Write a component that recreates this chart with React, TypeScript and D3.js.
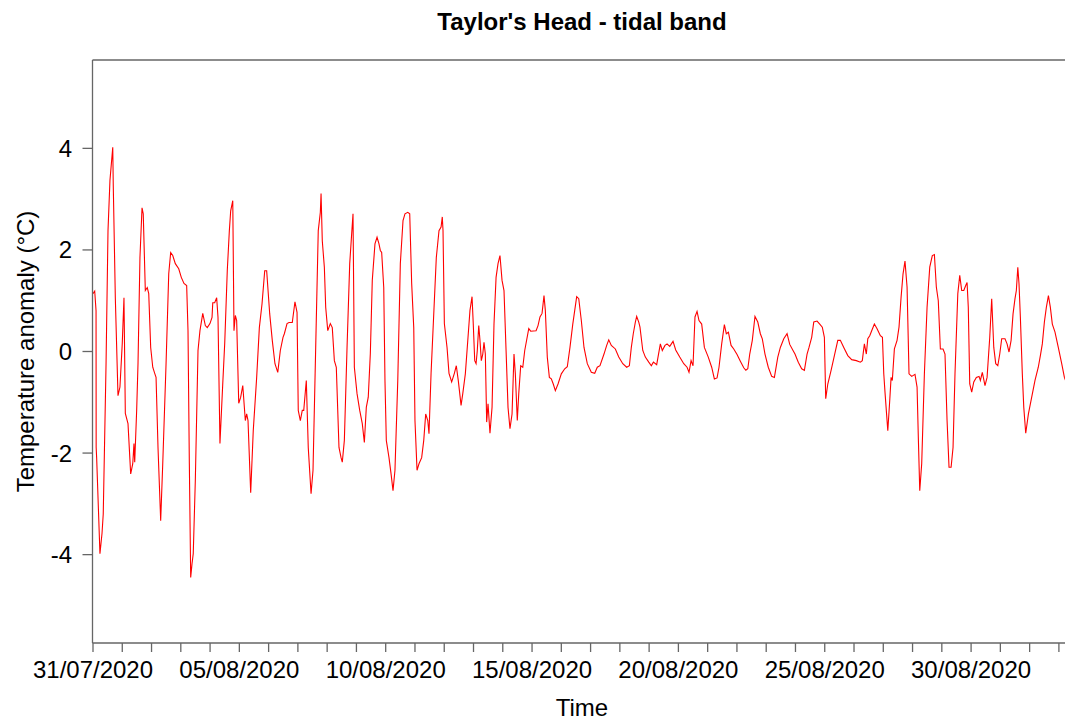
import React from "react";
import * as d3 from "d3";

// time in hours since 31/07/2020 00:00 (UTC)
const hours: number[] = [
  0, 1.4, 2.5, 2.6, 3.0, 5.7, 7.4, 8.4, 10.7, 12.3, 13.9, 16.2, 16.6, 18.3, 20.5, 22.1, 24.0, 25.4, 26.5, 28.7,
  30.9, 32.6, 33.6, 34.2, 35.8, 36.9, 38.5, 40.2, 41.2, 42.9, 44.5, 45.7, 47.3, 49.0, 50.6, 51.7, 53.3, 55.5, 57.2, 59.9,
  62.1, 63.7, 65.4, 67.5, 70.3, 72.4, 74.6, 76.8, 77.9, 79.0, 80.1, 81.2, 82.2, 83.9, 86.1, 87.7, 90.0, 92.1, 93.7, 95.9,
  97.6, 98.2, 99.8, 101.4, 102.5, 104.1, 106.4, 108.0, 110.1, 111.8, 112.9, 114.6, 115.6, 116.7, 117.8, 119.5, 121.1, 122.8, 124.9, 126.0,
  127.1, 129.3, 131.4, 134.2, 136.4, 138.6, 140.8, 142.4, 144.9, 147.0, 149.2, 151.5, 153.6, 155.8, 156.9, 159.1, 160.7, 163.4, 165.6, 167.3,
  168.3, 170.0, 171.6, 172.8, 174.9, 176.5, 178.8, 180.4, 182.6, 184.7, 186.4, 187.0, 188.0, 189.7, 190.8, 192.5, 194.6, 196.2, 197.9, 199.5,
  201.7, 203.4, 204.4, 206.1, 208.3, 210.5, 212.1, 213.2, 214.3, 216.5, 218.7, 220.8, 222.5, 224.1, 225.7, 227.4, 229.0, 231.2, 232.9, 234.5,
  235.6, 236.7, 238.4, 239.4, 240.5, 242.7, 244.4, 246.0, 247.6, 249.9, 252.0, 254.2, 255.8, 258.1, 259.7, 261.3, 263.0, 264.0, 265.7, 267.3,
  269.5, 271.2, 272.8, 274.5, 275.5, 277.2, 279.4, 281.5, 283.7, 285.4, 286.4, 287.0, 288.1, 290.3, 291.9, 294.1, 296.3, 297.9, 299.5, 301.8,
  303.2, 305.3, 307.5, 309.1, 310.8, 311.8, 313.0, 314.1, 315.1, 316.3, 317.3, 318.4, 319.6, 320.6, 321.7, 322.8, 323.9, 325.5, 327.2, 328.8,
  330.5, 332.1, 333.7, 335.4, 337.0, 338.7, 340.3, 341.9, 343.6, 345.2, 346.3, 347.9, 349.1, 350.7, 352.4, 354.0, 357.3, 358.9, 363.3, 364.9,
  366.5, 368.2, 369.8, 370.9, 372.5, 374.2, 375.8, 377.4, 379.1, 381.3, 384.0, 386.8, 388.9, 391.1, 393.4, 395.0, 396.6, 398.3, 400.4, 402.6,
  405.3, 408.6, 411.4, 413.5, 415.7, 419.0, 421.2, 422.9, 425.0, 428.3, 431.1, 434.4, 437.6, 439.8, 441.4, 443.0, 444.7, 445.8, 447.5, 448.5,
  450.8, 452.9, 455.7, 457.8, 459.5, 462.2, 465.2, 466.8, 469.0, 470.7, 472.9, 475.6, 477.8, 481.1, 484.4, 487.1, 488.7, 490.4, 492.0, 493.6,
  495.3, 496.9, 499.1, 501.3, 504.5, 507.3, 509.5, 511.7, 513.3, 515.5, 517.7, 519.3, 521.0, 523.2, 525.4, 528.1, 530.8, 533.6, 535.3, 536.9,
  538.5, 540.6, 542.8, 545.1, 547.2, 548.8, 551.0, 553.7, 556.5, 558.7, 561.5, 563.6, 566.4, 569.1, 571.3, 574.0, 575.6, 578.3, 581.1, 583.3,
  585.5, 587.1, 589.3, 591.0, 593.7, 595.9, 598.0, 599.7, 600.8, 602.5, 605.2, 607.9, 610.7, 612.8, 615.6, 618.9, 622.1, 625.9, 629.2, 630.8,
  632.5, 634.1, 635.3, 636.9, 638.5, 640.7, 642.9, 645.6, 647.3, 648.4, 649.4, 651.7, 653.3, 654.4, 655.4, 657.1, 659.3, 660.9, 662.6, 664.2,
  665.8, 667.5, 669.1, 671.3, 674.0, 675.7, 676.8, 677.9, 679.5, 681.7, 683.9, 686.1, 688.2, 689.9, 691.5, 693.1, 694.8, 697.0, 698.6, 700.3,
  701.9, 703.6, 705.2, 706.8, 709.1, 710.7, 712.3, 714.0, 715.6, 716.7, 717.7, 718.9, 720.5, 722.2, 724.3, 726.5, 727.6, 729.2, 731.4, 733.1,
  735.3, 736.9, 738.6, 740.2, 741.9, 743.5, 745.1, 747.8, 749.5, 751.1, 752.8, 754.4, 756.0, 757.1, 758.3, 759.3, 760.4, 762.0, 763.2, 764.8,
  767.0, 769.7, 772.4, 775.1, 776.8, 778.4, 780.1, 781.7, 783.4, 785.0, 786.6, 788.8, 791.5, 794.3, 796.5, 797.9,
];

// temperature anomaly (°C)
const anomaly: number[] = [
  1.14, 1.19, 0.8, -1.89, -2.1, -3.98, -3.58, -3.2, -0.24, 2.38, 3.37, 4.02, 3.3, 1.06, -0.87, -0.7, 0.16, 1.06, -1.22, -1.42,
  -2.41, -2.21, -1.81, -2.18, -1.16, -0.24, 1.85, 2.83, 2.71, 1.2, 1.26, 1.14, 0.08, -0.31, -0.43, -0.51, -1.89, -3.33, -2.2, -0.24,
  1.53, 1.95, 1.89, 1.73, 1.63, 1.46, 1.34, 1.3, 0.41, -2.21, -4.45, -4.18, -3.98, -2.54, 0.02, 0.41, 0.75, 0.51, 0.47, 0.55,
  0.67, 0.96, 0.96, 1.06, 0.67, -1.81, -0.63, 0.16, 1.59, 2.38, 2.77, 2.97, 0.41, 0.71, 0.61, -1.02, -0.9, -0.67, -1.36, -1.23,
  -1.36, -2.78, -1.56, -0.51, 0.47, 0.94, 1.59, 1.59, 0.74, 0.22, -0.24, -0.41, 0.02, 0.28, 0.35, 0.55, 0.57, 0.57, 0.98, 0.77,
  -1.16, -1.36, -1.16, -1.16, -0.57, -1.89, -2.8, -2.34, 0.08, 2.38, 2.74, 3.11, 2.18, 1.66, 0.87, 0.41, 0.55, 0.47, -0.18, -0.31,
  -1.89, -2.09, -2.18, -1.75, 0.08, 1.73, 2.32, 2.71, -0.31, -0.83, -1.16, -1.42, -1.79, -1.1, -0.9, -0.04, 1.4, 2.12, 2.25, 2.12,
  1.99, 1.95, 1.26, -0.57, -1.75, -2.09, -2.41, -2.74, -2.34, -0.57, 1.73, 2.58, 2.71, 2.74, 2.71, 1.34, 0.47, -1.36, -2.34, -2.21,
  -2.09, -1.75, -1.23, -1.36, -1.62, -0.43, 0.74, 1.85, 2.38, 2.45, 2.65, 2.38, 0.55, 0.08, -0.43, -0.6, -0.43, -0.28, -0.57, -1.06,
  -0.83, -0.44, 0.28, 0.81, 1.08, 0.54, -0.18, -0.24, 0.02, 0.51, 0.22, -0.18, -0.05, 0.18, -0.05, -1.39, -1.03, -1.61, -1.1, 0.54,
  1.46, 1.73, 1.89, 1.4, 1.2, 0.02, -1.1, -1.52, -1.23, -0.05, -0.44, -1.36, -0.83, -0.28, -0.31, 0.02, 0.45, 0.4, 0.41, 0.51,
  0.68, 0.75, 1.1, 0.81, -0.11, -0.51, -0.54, -0.64, -0.77, -0.64, -0.44, -0.34, -0.3, 0.08, 0.54, 0.81, 1.08, 1.04, 0.61, 0.08,
  -0.24, -0.41, -0.43, -0.31, -0.28, -0.05, 0.12, 0.23, 0.12, 0.05, -0.11, -0.24, -0.31, -0.28, 0.08, 0.35, 0.58, 0.69, 0.58, 0.48,
  0.02, -0.11, -0.21, -0.28, -0.21, -0.26, 0.15, 0.02, 0.12, 0.15, 0.1, 0.2, 0.03, -0.11, -0.24, -0.31, -0.41, -0.18, -0.28, 0.68,
  0.79, 0.61, 0.54, 0.08, -0.11, -0.31, -0.54, -0.52, -0.31, 0.15, 0.53, 0.35, 0.38, 0.12, 0.05, -0.06, -0.19, -0.32, -0.37, -0.34,
  -0.05, 0.22, 0.69, 0.58, 0.35, 0.25, -0.05, -0.31, -0.49, -0.51, -0.11, 0.08, 0.25, 0.35, 0.14, 0.02, -0.05, -0.21, -0.34, -0.37,
  -0.05, 0.08, 0.28, 0.58, 0.6, 0.54, 0.48, 0.28, -0.93, -0.64, -0.37, -0.08, 0.22, 0.22, 0.08, -0.08, -0.16, -0.18, -0.21, -0.18,
  0.15, -0.05, 0.25, 0.31, 0.41, 0.54, 0.45, 0.31, 0.28, -0.44, -0.8, -1.56, -0.96, -0.51, -0.57, 0.05, 0.22, 0.48, 1.07, 1.53,
  1.78, 1.27, -0.44, -0.49, -0.45, -0.7, -1.75, -2.74, -2.21, -0.44, 0.87, 1.66, 1.89, 1.91, 1.27, 1.0, 0.05, 0.05, -0.05, -1.36,
  -2.28, -2.28, -1.89, -0.44, 1.14, 1.5, 1.2, 1.2, 1.3, 1.36, 0.87, -0.64, -0.8, -0.6, -0.51, -0.49, -0.57, -0.41, -0.67, -0.51,
  0.28, 1.04, 0.08, -0.24, -0.28, -0.05, 0.25, 0.25, 0.15, -0.01, 0.22, 0.74, 1.04, 1.2, 1.66, 1.33, 0.68, -0.44, -1.1, -1.61,
  -1.23, -0.9, -0.57, -0.31, -0.08, 0.15, 0.58, 0.87, 1.1, 0.87, 0.54, 0.38, 0.08, -0.24, -0.51, -0.6,
];

const yTicks: number[] = [-4, -2, 0, 2, 4];
const labelDays: number[] = [0, 5, 10, 15, 20, 25, 30];
const totalDaysTicks = 33;

const title = "Taylor's Head - tidal band";
const xLabel = "Time";
const yLabel = "Temperature anomaly (°C)";

const W = 1065;
const H = 722;
const FONT = "'Liberation Sans', Arial, Helvetica, sans-serif";

export default function App() {
  const start = new Date(Date.UTC(2020, 6, 31));
  const hourMs = 3600 * 1000;
  const left = 92.5;
  const top = 60;
  const bottom = 643;
  const right = 1070;

  const x = d3
    .scaleTime()
    .domain([start, new Date(start.getTime() + 797 * hourMs)])
    .range([93, 1065]);
  const y = d3.scaleLinear().domain([-5.74, 5.74]).range([bottom, top]);

  const pts: [Date, number][] = hours.map((h, i) => [new Date(start.getTime() + h * hourMs), anomaly[i]]);
  const line = d3
    .line<[Date, number]>()
    .x((d) => x(d[0]))
    .y((d) => y(d[1]));

  const dayTicks = d3.range(0, totalDaysTicks + 1).map((d) => new Date(start.getTime() + d * 24 * hourMs));
  const fmt = d3.utcFormat("%d/%m/%Y");
  const axisColor = "#666";

  return (
    <svg
      width={W}
      height={H}
      viewBox={`0 0 ${W} ${H}`}
      style={{ position: "absolute", left: 0, top: 0, background: "#fff" }}
      fontFamily={FONT}
    >
      <rect x={0} y={0} width={W} height={H} fill="#fff" />
      <defs>
        <clipPath id="plotclip">
          <rect x={left} y={top} width={right - left} height={bottom - top} />
        </clipPath>
      </defs>
      <text x={582} y={30} textAnchor="middle" fontSize={24} fontWeight="bold" fill="#000">
        {title}
      </text>
      <path d={line(pts) || ""} fill="none" stroke="#ff0000" strokeWidth={1.1} clipPath="url(#plotclip)" />
      <line x1={left} x2={right} y1={top} y2={top} stroke={axisColor} strokeWidth={1.3} />
      <line x1={left} x2={right} y1={bottom} y2={bottom} stroke={axisColor} strokeWidth={1.3} />
      <line x1={left} x2={left} y1={top} y2={bottom} stroke={axisColor} strokeWidth={1.3} />
      {yTicks.map((t) => (
        <g key={t}>
          <line x1={left - 10} x2={left} y1={y(t)} y2={y(t)} stroke={axisColor} strokeWidth={1.3} />
          <text x={72} y={y(t) + 8.5} textAnchor="end" fontSize={24} fill="#000">
            {t}
          </text>
        </g>
      ))}
      {dayTicks.map((d, i) => (
        <line key={i} x1={x(d)} x2={x(d)} y1={bottom} y2={bottom + 9} stroke={axisColor} strokeWidth={1.3} />
      ))}
      {labelDays.map((n) => {
        const d = new Date(start.getTime() + n * 24 * hourMs);
        return (
          <text key={n} x={x(d)} y={678} textAnchor="middle" fontSize={24} fill="#000">
            {fmt(d)}
          </text>
        );
      })}
      <text x={582} y={716} textAnchor="middle" fontSize={24} fill="#000">
        {xLabel}
      </text>
      <text transform={`translate(33.5, ${y(0)}) rotate(-90)`} textAnchor="middle" fontSize={24} fill="#000">
        {yLabel}
      </text>
    </svg>
  );
}
